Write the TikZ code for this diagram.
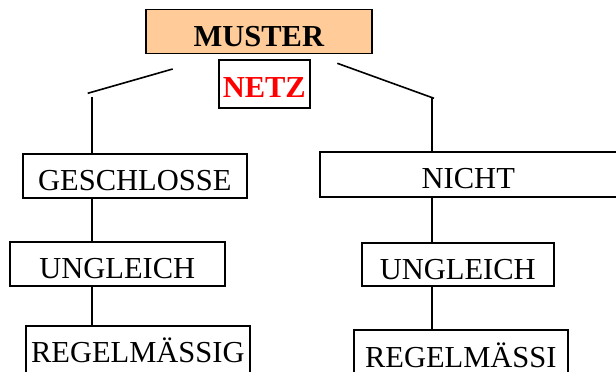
\documentclass[tikz,border=0pt]{standalone}
\usepackage{fontspec}
\setmainfont{Liberation Serif}
\definecolor{peach}{HTML}{FFCC99}
\definecolor{netzred}{HTML}{FF0000}
\begin{document}
\begin{tikzpicture}[x=1pt,y=-1pt,
  box/.style={draw=black,line width=1.6pt,inner sep=0pt,anchor=north west,
    text height=37pt,text depth=7pt,font=\fontsize{30.5}{30}\selectfont},
  conn/.style={line width=1.6pt,black}]
\useasboundingbox (0,0) rectangle (616,372);
\begin{scope}
\clip (0,0) rectangle (616,372);
\node[box,fill=peach,minimum width=226pt,font=\fontsize{30.5}{30}\selectfont\bfseries] (muster) at (145,8.5) {MUSTER};
\node[box,minimum width=91pt,text height=38pt,text depth=10pt,text=netzred,font=\fontsize{30.5}{30}\selectfont\bfseries] (netz) at (218,59) {NETZ};
\node[box,minimum width=224pt] (gesch) at (22,153) {GESCHLOSSE};
\node[box,minimum width=215pt] (ungl) at (9,241) {UNGLEICH};
\node[box,minimum width=224pt,text depth=12pt] (regl) at (25,325) {REGELMÄSSIG};
\node[box,minimum width=297pt,text depth=8pt] (nicht) at (319,151) {NICHT};
\node[box,minimum width=192pt,text depth=6pt] (unglr) at (361,242) {UNGLEICH};
\node[box,minimum width=214pt,text height=38pt,text depth=7pt] (reglr) at (353,329) {REGELMÄSSI};
\end{scope}
\coordinate (la) at (172.7,69);
\coordinate (lb) at (87.7,93.3);
\coordinate (lc) at (92,96.7);
\coordinate (ra) at (337.3,63.3);
\coordinate (rb) at (434,98.3);
\coordinate (rc) at (432,98.3);
\draw[conn] (la) -- (lb);
\draw[conn] (lc) -- (lc |- gesch.north);
\draw[conn] (ra) -- (rb);
\draw[conn] (rc) -- (rc |- nicht.north);
\draw[conn] (gesch.south -| lc) -- (ungl.north -| lc);
\draw[conn] (ungl.south -| lc) -- (regl.north -| lc);
\draw[conn] (nicht.south -| rc) -- (unglr.north -| rc);
\draw[conn] (unglr.south -| rc) -- (reglr.north -| rc);
\end{tikzpicture}
\end{document}
